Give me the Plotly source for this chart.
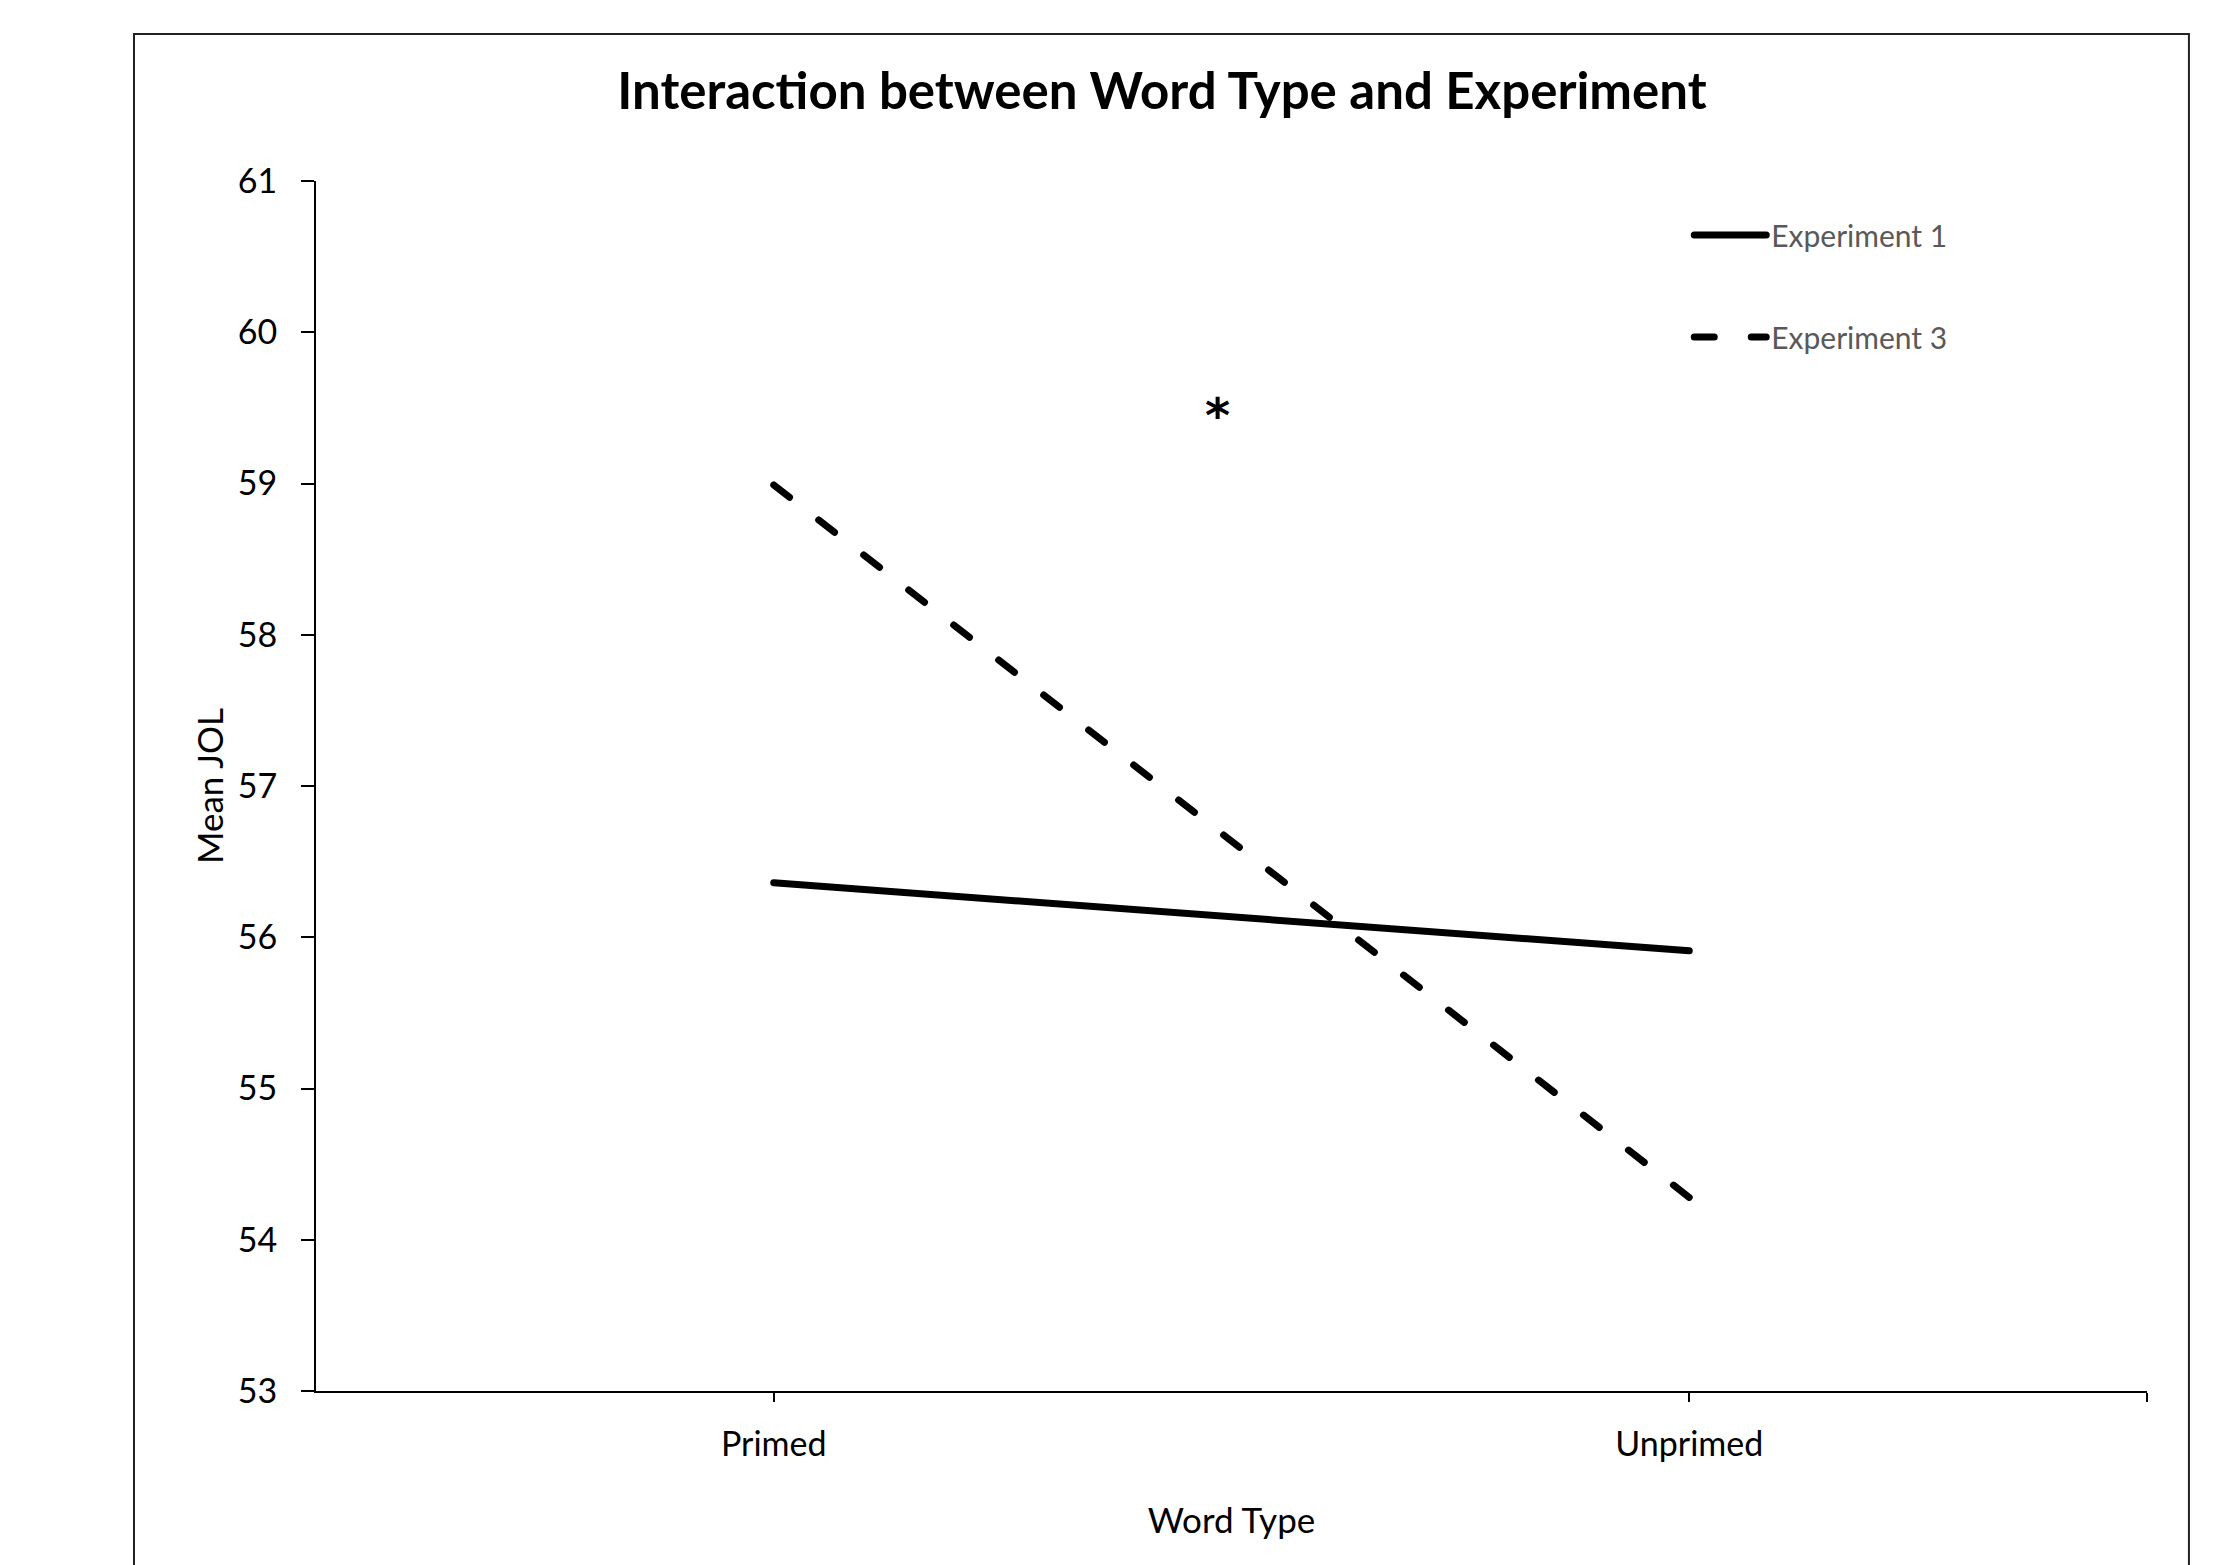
import plotly.graph_objects as go

# Word type categories on the x axis
word_types = ["Primed", "Unprimed"]

# Mean JOL per word type for each experiment
exp1_mean_jol = [56.36, 55.91]
exp3_mean_jol = [58.99, 54.28]

series_names = ["Experiment 1", "Experiment 3"]

y_ticks = [53, 54, 55, 56, 57, 58, 59, 60, 61]

FONT = "Lato"

x_pos = list(range(len(word_types)))
# tick at each category plus one closing tick at the right end of the axis
x_tickvals = x_pos + [len(word_types) - 0.5]
x_ticktext = word_types + [""]

fig = go.Figure()

fig.add_trace(go.Scatter(
    x=x_pos, y=exp1_mean_jol, name=series_names[0], mode="lines",
    line=dict(color="black", width=7), legendgroup="e1",
))
fig.add_trace(go.Scatter(
    x=x_pos, y=exp3_mean_jol, name=series_names[1], mode="lines",
    line=dict(color="black", width=7, dash="20px,37px"), legendgroup="e3",
))

# significance marker for the interaction
fig.add_annotation(
    x=0.485, y=59.5, xref="x", yref="y", text="<b>*</b>", showarrow=False,
    yshift=-7,
    font=dict(family="DejaVu Sans", size=48, color="black"),
)

# outer chart frame
fig.add_shape(
    type="rect", xref="paper", yref="paper",
    x0=-0.0994, x1=1.0229, y0=-0.2, y1=1.1215,
    line=dict(color="#222222", width=2), fillcolor="rgba(0,0,0,0)",
    layer="below",
)

fig.update_layout(
    width=2223, height=1565,
    margin=dict(l=316, r=76, t=181, b=174),
    paper_bgcolor="white", plot_bgcolor="white",
    font=dict(family=FONT, color="black", size=34),
    title=dict(
        text="<b>Interaction between Word Type and Experiment</b>",
        x=1162 / 2223, xanchor="center",
        y=1 - 91 / 1565, yanchor="middle", yref="container",
        font=dict(family=FONT, size=51, color="black"),
    ),
    showlegend=True,
    legend=dict(
        x=0.75, xanchor="left", y=1 - 28 / 1210, yanchor="top",
        bgcolor="rgba(0,0,0,0)",
        font=dict(family=FONT, size=30, color="#595959"),
        itemwidth=72, tracegroupgap=60,
    ),
    xaxis=dict(
        range=[-0.5, len(word_types) - 0.5],
        tickmode="array", tickvals=x_tickvals, ticktext=x_ticktext,
        showline=True, linecolor="black", linewidth=2,
        ticks="outside", ticklen=9, tickwidth=2, tickcolor="black",
        showgrid=False, zeroline=False,
        ticklabelstandoff=13,
        tickfont=dict(family=FONT, size=34, color="black"),
        title=dict(text="Word Type", standoff=47,
                   font=dict(family=FONT, size=35, color="black")),
    ),
    yaxis=dict(
        range=[53, 61], tickmode="array", tickvals=y_ticks,
        showline=True, linecolor="black", linewidth=2,
        ticks="outside", ticklen=13, tickwidth=2, tickcolor="black",
        showgrid=False, zeroline=False,
        tickfont=dict(family=FONT, size=34, color="black"),
        ticklabelstandoff=17,
        title=dict(text="Mean JOL", standoff=3,
                   font=dict(family=FONT, size=35, color="black")),
    ),
)

# rounded ends on the series strokes (plot and legend samples)
round_caps = """
var gd = document.getElementById('{plot_id}');
function roundCaps() {
  gd.querySelectorAll('path.js-line').forEach(function (p) {
    p.style.strokeLinecap = 'round';
  });
}
roundCaps();
gd.on('plotly_afterplot', roundCaps);
"""

fig.write_html("out.html", post_script=round_caps)
